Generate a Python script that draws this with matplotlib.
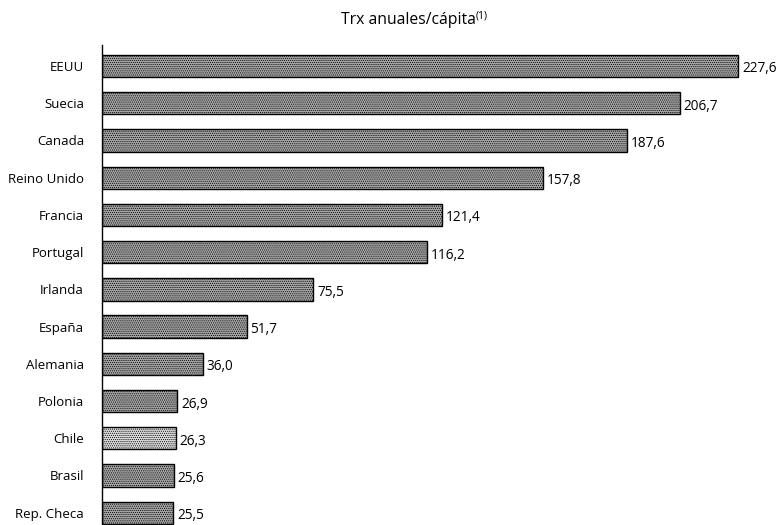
import matplotlib.pyplot as plt

paises = ['EEUU', 'Suecia', 'Canada', 'Reino Unido', 'Francia', 'Portugal',
          'Irlanda', 'España', 'Alemania', 'Polonia', 'Chile', 'Brasil', 'Rep. Checa']
trx_per_capita = [227.6, 206.7, 187.6, 157.8, 121.4, 116.2,
                  75.5, 51.7, 36.0, 26.9, 26.3, 25.6, 25.5]
destacado = 'Chile'

plt.rcParams['font.family'] = ['Open Sans', 'DejaVu Sans']
plt.rcParams['hatch.color'] = '#4a4a4a'
plt.rcParams['hatch.linewidth'] = 0.5

fig = plt.figure(figsize=(7.8, 5.25), dpi=100)
ax = fig.add_axes([0.131, 0.0, 0.869, 0.914])

for i, (pais, valor) in enumerate(zip(paises, trx_per_capita)):
    color = '#dcdcdc' if pais == destacado else '#a6a6a6'
    ax.barh(i, valor, height=0.6, color=color, edgecolor='black',
            linewidth=1.0, hatch='........')
    ax.text(valor + 1.4, i + 0.08, f'{valor:.1f}'.replace('.', ','),
            va='center', ha='left', fontsize=9.8)

ax.set_yticks(range(len(paises)))
ax.set_yticklabels(paises, fontsize=9.5)
ax.tick_params(axis='y', length=0, pad=13)
ax.set_xticks([])
ax.set_xlim(0, 242.5)
ax.set_ylim(12.33, -0.56)
for lado in ['top', 'right', 'bottom']:
    ax.spines[lado].set_visible(False)
ax.spines['left'].set_linewidth(1.0)

titulo = fig.text(0.523, 0.962, 'Trx anuales/cápita', ha='center', va='center',
                  fontsize=11.3)
ax.annotate('(1)', xy=(1, 0.72), xycoords=titulo, fontsize=7.5, ha='left',
            va='center')

fig.savefig('out.png', dpi=100)
